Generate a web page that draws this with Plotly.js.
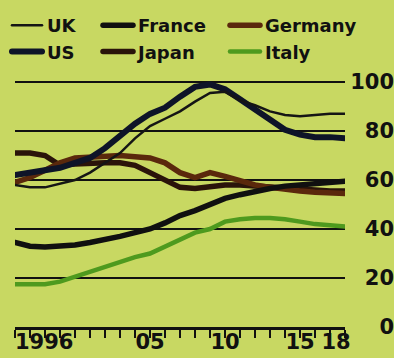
<!DOCTYPE html>
<html>
<head>
<meta charset="utf-8">
<script src="https://cdn.plot.ly/plotly-3.0.1.min.js"></script>
<style>
  html, body { margin: 0; padding: 0; background: #c8d862; }
  #chart { width: 394px; height: 358px; }
  .js-line { stroke-linecap: round; }
</style>
</head>
<body>
<div id="chart"></div>
<script>
// ---- data ----
const years = [1996,1997,1998,1999,2000,2001,2002,2003,2004,2005,2006,2007,2008,2009,2010,2011,2012,2013,2014,2015,2016,2017,2018];
const uk      = [58,57,57,58.5,60,63,67,71,77,82,85,88,92,95.5,96,92.5,90.5,88,86.5,86,86.5,87,87];
const us      = [62,63,64,65,67,69,73,78,83,87,89.5,94,98,99,97,93,89,85,80.5,78.5,77.5,77.5,77];
const france  = [34.5,33,32.7,33,33.5,34.5,35.5,37,38.5,40,42.5,45.5,47.5,50,52.5,54,55.5,56.5,57.5,58,58.5,59,59.5];
const germany = [59,61,64,67,69,69.5,70,70,69.5,69,67,63,61,63,61.5,59.5,58,57,56,55.5,55,54.5,54.5];
const japan   = [71,71,70,66,66.5,67,67,67,66,63,60,57,56.5,57.5,58,58,57.5,57,56.5,56,56,55.5,55.5];
const italy   = [17.5,17.5,17.5,18.5,20.5,22.5,24.5,26.5,28.5,30,33,36,38.5,40,43,44,44.5,44.5,44,43,42,41.5,41];

const yTicks = [0,20,40,60,80,100];
const yTickText = ['0','20','40','60','80','100'];
const xMidTicks = [2005,2010,2015];
const xMidText = ['05','10','15'];
const xFirstText = ['1996'];
const xLastText = ['18'];

// ---- styling ----
const BG = '#c8d862';
const INK = '#111111';
const FONT = {family: 'DejaVu Sans', size: 21, color: INK, weight: 700};
const LFONT = {family: 'DejaVu Sans', size: 18, color: INK, weight: 700};

function line(name, y, color, width, legend, rank, xaxis) {
  return {
    type: 'scatter', mode: 'lines', name: name,
    x: years, y: y, xaxis: xaxis || 'x', yaxis: 'y',
    line: {color: color, width: width, shape: 'linear'},
    legend: legend, legendrank: rank, hoverinfo: 'skip'
  };
}

const traces = [
  line('Italy',   italy,   '#4e9a1e', 4.5, 'legend3', 2, 'x4'),
  line('Japan',   japan,   '#2a140a', 5.5, 'legend2', 2),
  line('Germany', germany, '#5a280c', 5.5, 'legend3', 1),
  line('France',  france,  '#101010', 5.5, 'legend2', 1),
  line('US',      us,      '#0e1428', 6,   'legend',  2, 'x2'),
  line('UK',      uk,      '#151515', 2.5, 'legend',  1, 'x3')
];

const L = 15, W = 394, H = 358, T = 72, B = 31;
const plotW = 330;
const xDom = [0, plotW / (W - L)];
const yMax = (H - T - B) / 2.45;

const legendBase = {
  orientation: 'v', xanchor: 'left', yanchor: 'top',
  bgcolor: 'rgba(0,0,0,0)', borderwidth: 0, font: LFONT,
  itemwidth: 30, tracegroupgap: 0, traceorder: 'normal'
};
function lx(px) { return (px - L) / (W - L); }
function ly(py) { return 1 + (T - py) / (H - T - B); }

function labelAxis(vals, text, pos, shift) {
  return {
    domain: xDom, range: [1996, 2018], overlaying: 'x', anchor: 'y', side: 'bottom',
    tickmode: 'array', tickvals: vals, ticktext: text,
    ticks: '', ticklabelposition: pos, ticklabelshift: shift || 0,
    showline: false, showgrid: false, zeroline: false, tickfont: FONT, fixedrange: true
  };
}

const layout = {
  width: W, height: H,
  margin: {l: L, r: 0, t: T, b: B, pad: 0},
  paper_bgcolor: BG, plot_bgcolor: BG,
  showlegend: true,
  legend:  Object.assign({}, legendBase, {x: lx(7),   y: ly(7)}),
  legend2: Object.assign({}, legendBase, {x: lx(98),  y: ly(7)}),
  legend3: Object.assign({}, legendBase, {x: lx(225), y: ly(7)}),
  xaxis: {
    domain: xDom, range: [1996, 2018], anchor: 'y',
    tickmode: 'linear', tick0: 1996, dtick: 1, showticklabels: false,
    ticks: 'outside', ticklen: 8, tickwidth: 2, tickcolor: INK,
    showline: true, linecolor: INK, linewidth: 3,
    showgrid: false, zeroline: false, fixedrange: true
  },
  xaxis2: labelAxis([years[0]], xFirstText, 'outside right', 0),
  xaxis3: labelAxis([years[years.length - 1]], xLastText, 'outside', -9),
  xaxis4: labelAxis(xMidTicks, xMidText, 'outside', 0),
  yaxis: {
    domain: [0, 1], range: [0, yMax], anchor: 'free', position: 1, side: 'left',
    tickmode: 'array', tickvals: yTicks, ticktext: yTickText,
    ticks: '', showgrid: true, gridcolor: INK, gridwidth: 2,
    zeroline: false, showline: false, tickfont: FONT, fixedrange: true
  }
};

Plotly.newPlot('chart', traces, layout, {staticPlot: true, displayModeBar: false});
</script>
</body>
</html>
